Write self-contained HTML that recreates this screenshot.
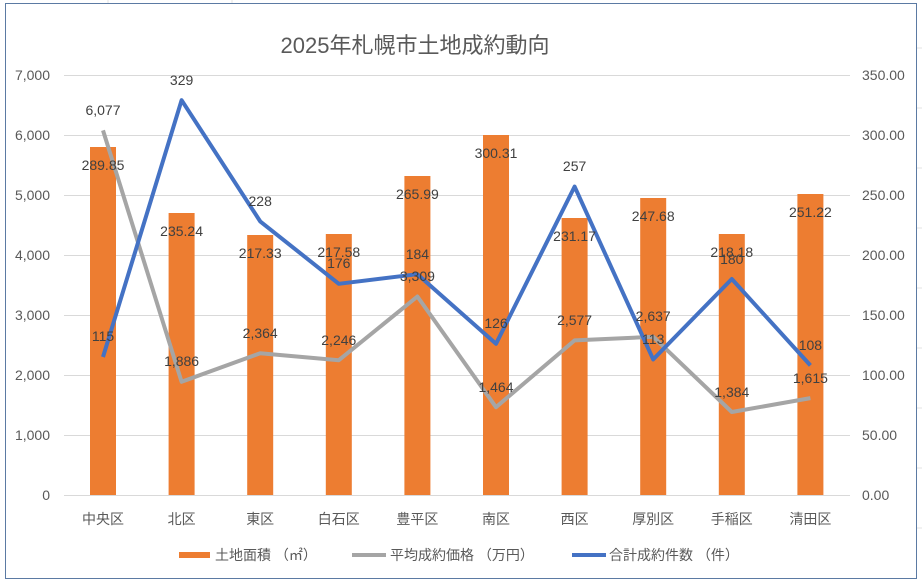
<!DOCTYPE html>
<html><head><meta charset="utf-8"><style>
html,body{margin:0;padding:0;background:#fff;}
svg{display:block;font-family:"Liberation Sans","Noto Sans CJK JP",sans-serif;}
</style></head><body>
<svg width="922" height="582" viewBox="0 0 922 582" xmlns="http://www.w3.org/2000/svg">
<rect width="922" height="582" fill="#fff"/>
<g stroke="#e3e3e3" stroke-width="1">
<line x1="108" y1="0" x2="108" y2="4"/><line x1="232" y1="0" x2="232" y2="4"/><line x1="917" y1="48" x2="922" y2="48"/><line x1="917" y1="108" x2="922" y2="108"/><line x1="917" y1="168" x2="922" y2="168"/><line x1="917" y1="228" x2="922" y2="228"/><line x1="917" y1="288" x2="922" y2="288"/><line x1="917" y1="348" x2="922" y2="348"/><line x1="917" y1="408" x2="922" y2="408"/><line x1="917" y1="468" x2="922" y2="468"/><line x1="917" y1="528" x2="922" y2="528"/>
</g>
<rect x="5.5" y="3.5" width="911" height="575" fill="#fff" stroke="#5b7aa3" stroke-width="1"/>
<text x="415" y="53" font-size="22" fill="#595959" text-anchor="middle">2025年札幌市土地成約動向</text>
<g stroke="#d9d9d9" stroke-width="1">
<line x1="64" y1="75.5" x2="850" y2="75.5"/><line x1="64" y1="135.5" x2="850" y2="135.5"/><line x1="64" y1="195.5" x2="850" y2="195.5"/><line x1="64" y1="255.5" x2="850" y2="255.5"/><line x1="64" y1="315.5" x2="850" y2="315.5"/><line x1="64" y1="375.5" x2="850" y2="375.5"/><line x1="64" y1="435.5" x2="850" y2="435.5"/><line x1="64" y1="495.5" x2="850" y2="495.5"/>
</g>
<g font-size="14" fill="#595959" text-anchor="end">
<text x="50" y="80">7,000</text><text x="50" y="140">6,000</text><text x="50" y="200">5,000</text><text x="50" y="260">4,000</text><text x="50" y="320">3,000</text><text x="50" y="380">2,000</text><text x="50" y="440">1,000</text><text x="50" y="500">0</text>
</g>
<g font-size="14" fill="#595959" text-anchor="start">
<text x="862" y="80">350.00</text><text x="862" y="140">300.00</text><text x="862" y="200">250.00</text><text x="862" y="260">200.00</text><text x="862" y="320">150.00</text><text x="862" y="380">100.00</text><text x="862" y="440">50.00</text><text x="862" y="500">0.00</text>
</g>
<g font-size="14" fill="#595959" text-anchor="middle">
<text x="103" y="524">中央区</text><text x="181.6" y="524">北区</text><text x="260.2" y="524">東区</text><text x="338.8" y="524">白石区</text><text x="417.4" y="524">豊平区</text><text x="496" y="524">南区</text><text x="574.6" y="524">西区</text><text x="653.2" y="524">厚別区</text><text x="731.8" y="524">手稲区</text><text x="810.4" y="524">清田区</text>
</g>
<g fill="#ed7d31">
<rect x="90" y="147" width="26" height="348"/><rect x="168.6" y="213" width="26" height="282"/><rect x="247.2" y="235" width="26" height="260"/><rect x="325.8" y="234" width="26" height="261"/><rect x="404.4" y="176" width="26" height="319"/><rect x="483" y="135" width="26" height="360"/><rect x="561.6" y="218" width="26" height="277"/><rect x="640.2" y="198" width="26" height="297"/><rect x="718.8" y="234" width="26" height="261"/><rect x="797.4" y="194" width="26" height="301"/>
</g>
<polyline fill="none" stroke="#a5a5a5" stroke-width="4" stroke-linejoin="round" points="103,130.4 181.6,381.8 260.2,353.2 338.8,360.2 417.4,296.5 496,407.2 574.6,340.4 653.2,336.8 731.8,412 810.4,398.1"/>
<polyline fill="none" stroke="#4472c4" stroke-width="4" stroke-linejoin="round" points="103,357 181.6,100.2 260.2,221.4 338.8,283.8 417.4,274.2 496,343.8 574.6,186.6 653.2,359.4 731.8,279 810.4,365.4"/>
<g font-size="14" fill="#404040" text-anchor="middle">
<text x="103" y="170">289.85</text><text x="181.6" y="236">235.24</text><text x="260.2" y="258">217.33</text><text x="338.8" y="257">217.58</text><text x="417.4" y="199">265.99</text><text x="496" y="158">300.31</text><text x="574.6" y="241">231.17</text><text x="653.2" y="221">247.68</text><text x="731.8" y="257">218.18</text><text x="810.4" y="217">251.22</text>
<text x="103" y="115">6,077</text><text x="181.6" y="366">1,886</text><text x="260.2" y="338">2,364</text><text x="338.8" y="345">2,246</text><text x="417.4" y="281">3,309</text><text x="496" y="392">1,464</text><text x="574.6" y="325">2,577</text><text x="653.2" y="321">2,637</text><text x="731.8" y="397">1,384</text><text x="810.4" y="383">1,615</text>
<text x="103" y="341">115</text><text x="181.6" y="85">329</text><text x="260.2" y="206">228</text><text x="338.8" y="268">176</text><text x="417.4" y="259">184</text><text x="496" y="328">126</text><text x="574.6" y="171">257</text><text x="653.2" y="344">113</text><text x="731.8" y="264">180</text><text x="810.4" y="350">108</text>
</g>
<rect x="179" y="552" width="31" height="6" fill="#ed7d31"/>
<text x="215" y="560" font-size="14" fill="#595959">土地面積 （㎡）</text>
<line x1="352" y1="555" x2="386" y2="555" stroke="#a5a5a5" stroke-width="4"/>
<text x="390" y="560" font-size="14" fill="#595959">平均成約価格 （万円）</text>
<line x1="572" y1="555" x2="606" y2="555" stroke="#4472c4" stroke-width="4"/>
<text x="609" y="560" font-size="14" fill="#595959">合計成約件数 （件）</text>
</svg>
</body></html>
